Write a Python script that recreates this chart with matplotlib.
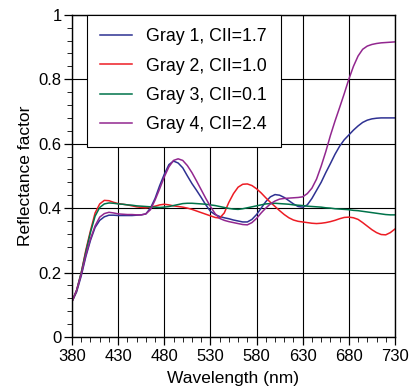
import numpy as np
import matplotlib
matplotlib.use("Agg")
import matplotlib.pyplot as plt
from matplotlib.ticker import MultipleLocator

plt.rcParams['font.family'] = ['Liberation Sans', 'DejaVu Sans']

# wavelength grid (nm), 5 nm steps
wavelength = np.arange(380, 731, 5)

gray1 = [0.11, 0.14, 0.19, 0.25, 0.30, 0.34, 0.362, 0.373, 0.378, 0.378,
         0.377, 0.377, 0.377, 0.377, 0.378, 0.379, 0.382, 0.40, 0.43, 0.47,
         0.505, 0.535, 0.546, 0.54, 0.525, 0.50, 0.476, 0.455, 0.433, 0.41,
         0.39, 0.38, 0.374, 0.37, 0.367, 0.363, 0.36, 0.357, 0.357, 0.365,
         0.38, 0.40, 0.42, 0.435, 0.442, 0.44, 0.433, 0.423, 0.413, 0.405,
         0.403, 0.41, 0.43, 0.455, 0.48, 0.51, 0.538, 0.567, 0.592, 0.612,
         0.627, 0.642, 0.655, 0.666, 0.673, 0.677, 0.679, 0.68, 0.68, 0.68,
         0.68]

gray2 = [0.11, 0.145, 0.20, 0.27, 0.33, 0.385, 0.413, 0.424, 0.423, 0.418,
         0.414, 0.412, 0.41, 0.407, 0.404, 0.402, 0.401, 0.403, 0.406, 0.41,
         0.412, 0.41, 0.407, 0.405, 0.403, 0.40, 0.396, 0.391, 0.386, 0.381,
         0.376, 0.371, 0.369, 0.385, 0.418, 0.445, 0.465, 0.474, 0.475, 0.47,
         0.46, 0.447, 0.432, 0.418, 0.405, 0.392, 0.38, 0.37, 0.363, 0.359,
         0.357, 0.355, 0.353, 0.352, 0.353, 0.355, 0.358, 0.362, 0.367, 0.371,
         0.372, 0.37, 0.365, 0.355, 0.344, 0.333, 0.324, 0.318, 0.317, 0.324,
         0.335]

gray3 = [0.11, 0.145, 0.20, 0.265, 0.325, 0.375, 0.402, 0.413, 0.416, 0.415,
         0.413, 0.412, 0.41, 0.409, 0.407, 0.406, 0.405, 0.404, 0.403, 0.402,
         0.403, 0.405, 0.408, 0.411, 0.414, 0.415, 0.415, 0.414, 0.413, 0.412,
         0.41, 0.408, 0.405, 0.402, 0.399, 0.397, 0.396, 0.398, 0.401, 0.404,
         0.407, 0.41, 0.413, 0.414, 0.415, 0.414, 0.413, 0.412, 0.41, 0.409,
         0.408, 0.406, 0.405, 0.404, 0.403, 0.401, 0.40, 0.398, 0.397, 0.396,
         0.395, 0.393, 0.392, 0.39, 0.388, 0.386, 0.384, 0.382, 0.38, 0.379,
         0.379]

gray4 = [0.11, 0.145, 0.195, 0.255, 0.305, 0.345, 0.372, 0.383, 0.387, 0.385,
         0.382, 0.381, 0.38, 0.38, 0.379, 0.379, 0.382, 0.395, 0.425, 0.46,
         0.497, 0.528, 0.548, 0.553, 0.548, 0.532, 0.51, 0.484, 0.457, 0.43,
         0.405, 0.383, 0.368, 0.362, 0.358, 0.355, 0.352, 0.349, 0.348, 0.355,
         0.368, 0.385, 0.40, 0.413, 0.422, 0.428, 0.43, 0.431, 0.432, 0.433,
         0.435, 0.445, 0.462, 0.49, 0.53, 0.575, 0.625, 0.67, 0.712, 0.755,
         0.80, 0.84, 0.872, 0.893, 0.903, 0.908, 0.911, 0.913, 0.914, 0.915,
         0.916]

labels = ["Gray 1, CII=1.7", "Gray 2, CII=1.0", "Gray 3, CII=0.1", "Gray 4, CII=2.4"]
colors = ["#2e3192", "#ed1c24", "#00734a", "#92278f"]
xticks = [380, 430, 480, 530, 580, 630, 680, 730]
yticks = [0, 0.2, 0.4, 0.6, 0.8, 1.0]
yticklabels = ["0", "0.2", "0.4", "0.6", "0.8", "1"]

fig = plt.figure(figsize=(4.14, 3.90), dpi=100)
ax = fig.add_axes([0.174, 0.136, 0.780, 0.826])

for series, lab, col in zip([gray1, gray2, gray3, gray4], labels, colors):
    ax.plot(wavelength, series, color=col, lw=1.1, label=lab)

ax.set_xlim(380, 730)
ax.set_ylim(0, 1)
ax.set_xticks(xticks)
ax.xaxis.set_minor_locator(MultipleLocator(10))
ax.set_yticks(yticks)
ax.set_yticklabels(yticklabels)
ax.yaxis.set_minor_locator(MultipleLocator(0.04))

ax.grid(True, which='major', color='k', lw=0.8)
ax.tick_params(which='major', direction='out', length=6, width=0.9, labelsize=12)
ax.tick_params(which='minor', direction='out', length=3.5, width=0.6)
ax.tick_params(axis='y', which='major', pad=1.5)
ax.tick_params(axis='x', which='major', pad=3)
for sp in ax.spines.values():
    sp.set_linewidth(1.0)

ax.set_xlabel("Wavelength (nm)", fontsize=12.5, labelpad=5)
ax.set_ylabel("Reflectance factor", fontsize=12.5, labelpad=4)

leg = ax.legend(loc='upper left', bbox_to_anchor=(0.046, 1.0), fontsize=12.8,
                frameon=True, fancybox=False, framealpha=1, edgecolor='k',
                handlelength=1.8, labelspacing=0.7, borderpad=0.75,
                handletextpad=0.8, borderaxespad=0)
leg.get_frame().set_linewidth(0.8)

fig.savefig("out.png", dpi=100)
